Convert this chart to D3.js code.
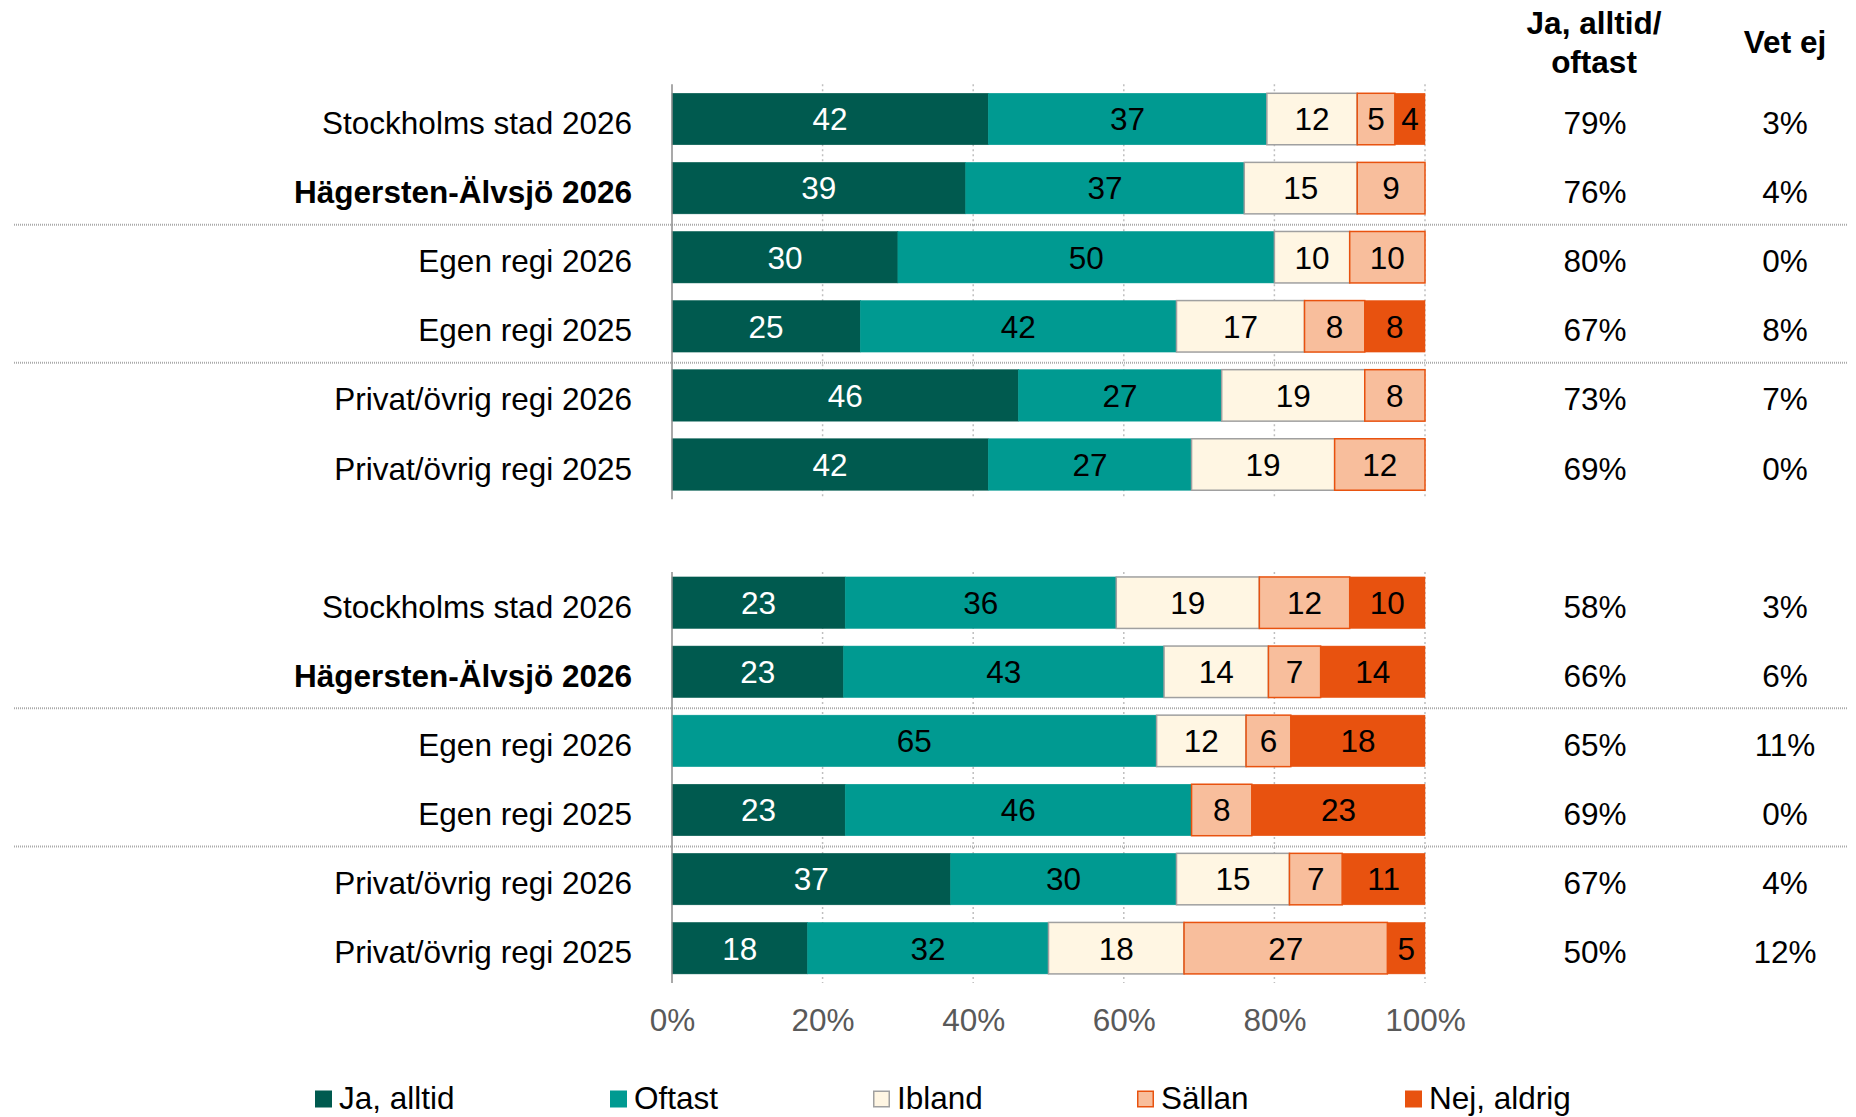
<!DOCTYPE html>
<html>
<head>
<meta charset="utf-8">
<script src="https://cdn.jsdelivr.net/npm/d3@7"></script>
<style>
  html, body { margin: 0; padding: 0; background: #ffffff; }
  svg { display: block; }
  text { font-family: "Liberation Sans", Arial, sans-serif; }
</style>
</head>
<body>
<svg id="chart" width="1856" height="1117"></svg>
<script>
// ---------- DATA ----------
const categories = ["Stockholms stad 2026", "Hägersten-Älvsjö 2026", "Egen regi 2026",
                    "Egen regi 2025", "Privat/övrig regi 2026", "Privat/övrig regi 2025"];
const boldCategory = "Hägersten-Älvsjö 2026";
const seriesKeys = ["Ja, alltid", "Oftast", "Ibland", "Sällan", "Nej, aldrig"];

// upper block
const topJaAlltid  = [42, 39, 30, 25, 46, 42];
const topOftast    = [37, 37, 50, 42, 27, 27];
const topIbland    = [12, 15, 10, 17, 19, 19];
const topSallan    = [5, 9, 10, 8, 8, 12];
const topNejAldrig = [4, 0, 0, 8, 0, 0];
const topJaOftast  = [79, 76, 80, 67, 73, 69];
const topVetEj     = [3, 4, 0, 8, 7, 0];

// lower block
const botJaAlltid  = [23, 23, 0, 23, 37, 18];
const botOftast    = [36, 43, 65, 46, 30, 32];
const botIbland    = [19, 14, 12, 0, 15, 18];
const botSallan    = [12, 7, 6, 8, 7, 27];
const botNejAldrig = [10, 14, 18, 23, 11, 5];
const botJaOftast  = [58, 66, 65, 69, 67, 50];
const botVetEj     = [3, 6, 11, 0, 4, 12];

const xTicks = [0, 0.2, 0.4, 0.6, 0.8, 1.0];
const headerJaOftast = ["Ja, alltid/", "oftast"];
const headerVetEj = "Vet ej";

// ---------- STYLE ----------
const fill = { "Ja, alltid": "#005A4F", "Oftast": "#009A91", "Ibland": "#FFF6E3", "Sällan": "#F8BE9C", "Nej, aldrig": "#E8520F" };
const stroke = { "Ja, alltid": "#005A4F", "Oftast": "#009A91", "Ibland": "#A0A0A0", "Sällan": "#E8520F", "Nej, aldrig": "#E8520F" };
const labelColor = { "Ja, alltid": "#ffffff", "Oftast": "#000000", "Ibland": "#000000", "Sällan": "#000000", "Nej, aldrig": "#000000" };
const FS = 31.5;

function buildRows(block, a, b, c, d, e, jo, ve) {
  return categories.map((cat, i) => ({
    id: block + i, block, idx: i, cat,
    "Ja, alltid": a[i], "Oftast": b[i], "Ibland": c[i], "Sällan": d[i], "Nej, aldrig": e[i],
    jaOftast: jo[i], vetEj: ve[i]
  }));
}
const topRows = buildRows("t", topJaAlltid, topOftast, topIbland, topSallan, topNejAldrig, topJaOftast, topVetEj);
const botRows = buildRows("b", botJaAlltid, botOftast, botIbland, botSallan, botNejAldrig, botJaOftast, botVetEj);
const allRows = [...topRows, { id: "gap" }, ...botRows];

const svg = d3.select("#chart");

const x = d3.scaleLinear().domain([0, 1]).range([672, 1425]);
const y = d3.scaleBand().domain(allRows.map(r => r.id))
  .range([84.3, 982.9]).paddingInner(0.255).paddingOuter(0.13);
const bw = y.bandwidth();

const stack = d3.stack().keys(seriesKeys).offset(d3.stackOffsetExpand);

function drawBlock(rows, axisTopPad) {
  const g = svg.append("g");
  const y0 = y(rows[0].id) - axisTopPad;
  const y1 = y(rows[rows.length - 1].id) + bw + 9;

  // gridlines
  g.selectAll("line.grid").data(xTicks.filter(t => t > 0)).join("line")
    .attr("x1", d => x(d)).attr("x2", d => x(d))
    .attr("y1", y0).attr("y2", y1)
    .attr("stroke", "#BFBFBF").attr("stroke-width", 1.5)
    .attr("stroke-dasharray", "2,3");

  // separators
  [1, 3].forEach(i => {
    const sy = (y(rows[i].id) + bw + y(rows[i + 1].id)) / 2 + 2;
    g.append("line").attr("x1", 14).attr("x2", 1848).attr("y1", sy).attr("y2", sy)
      .attr("stroke", "#AAAAAA").attr("stroke-width", 2).attr("stroke-dasharray", "1,1");
  });

  // bars
  const series = stack(rows);
  series.forEach(s => {
    const key = s.key;
    const sg = g.append("g");
    sg.selectAll("rect").data(s.filter(d => d.data[key] > 0)).join("rect")
      .attr("x", d => x(d[0])).attr("width", d => x(d[1]) - x(d[0]))
      .attr("y", d => y(d.data.id)).attr("height", bw)
      .attr("fill", fill[key])
      .attr("stroke", stroke[key])
      .attr("stroke-width", (key === "Ibland" || key === "Sällan") ? 1.5 : 0.5);
    sg.selectAll("text").data(s.filter(d => d.data[key] > 0)).join("text")
      .attr("x", d => (x(d[0]) + x(d[1])) / 2)
      .attr("y", d => y(d.data.id) + bw / 2)
      .attr("dy", "0.36em")
      .attr("text-anchor", "middle")
      .attr("font-size", FS)
      .attr("fill", labelColor[key])
      .text(d => d.data[key]);
  });

  // vertical axis line
  g.append("line").attr("x1", x(0)).attr("x2", x(0)).attr("y1", y0).attr("y2", y1)
    .attr("stroke", "#8C8C8C").attr("stroke-width", 1.5);

  // category labels
  g.selectAll("text.cat").data(rows).join("text")
    .attr("class", "cat")
    .attr("x", 632).attr("y", d => y(d.id) + bw / 2 + 15)
    .attr("text-anchor", "end").attr("font-size", FS)
    .attr("font-weight", d => d.cat === boldCategory ? "bold" : "normal")
    .attr("fill", "#000")
    .text(d => d.cat);

  // right columns
  g.selectAll("text.jo").data(rows).join("text")
    .attr("x", 1595).attr("y", d => y(d.id) + bw / 2 + 15)
    .attr("text-anchor", "middle").attr("font-size", FS).attr("fill", "#000")
    .text(d => d.jaOftast + "%");
  g.selectAll("text.ve").data(rows).join("text")
    .attr("x", 1785).attr("y", d => y(d.id) + bw / 2 + 15)
    .attr("text-anchor", "middle").attr("font-size", FS).attr("fill", "#000")
    .text(d => d.vetEj + "%");
  return y1;
}

drawBlock(topRows, 9);
drawBlock(botRows, 5);

// x axis tick labels
const xAxis = d3.axisBottom(x).tickValues(xTicks).tickFormat(d3.format(".0%")).tickSize(0).tickPadding(0);
const ax = svg.append("g").attr("transform", "translate(0,1031)").call(xAxis);
ax.select(".domain").remove();
ax.selectAll("text").attr("font-size", FS).attr("fill", "#595959")
  .attr("font-family", '"Liberation Sans", Arial, sans-serif').attr("dy", 0).attr("y", 0);

// headers
svg.append("text").attr("x", 1594).attr("y", 34).attr("text-anchor", "middle")
  .attr("font-size", FS).attr("font-weight", "bold").text(headerJaOftast[0]);
svg.append("text").attr("x", 1594).attr("y", 73).attr("text-anchor", "middle")
  .attr("font-size", FS).attr("font-weight", "bold").text(headerJaOftast[1]);
svg.append("text").attr("x", 1785).attr("y", 53).attr("text-anchor", "middle")
  .attr("font-size", FS).attr("font-weight", "bold").text(headerVetEj);

// legend
const legendX = [315, 610, 873, 1137, 1405];
const lg = svg.append("g").selectAll("g").data(seriesKeys).join("g")
  .attr("transform", (d, i) => `translate(${legendX[i]},1090.5)`);
lg.append("rect").attr("x", 0.75).attr("y", 0.75).attr("width", 15.5).attr("height", 15.5)
  .attr("fill", d => fill[d]).attr("stroke", d => stroke[d]).attr("stroke-width", 1.5);
lg.append("text").attr("x", 24).attr("y", 18).attr("font-size", FS).attr("fill", "#000")
  .text(d => d);
</script>
</body>
</html>
